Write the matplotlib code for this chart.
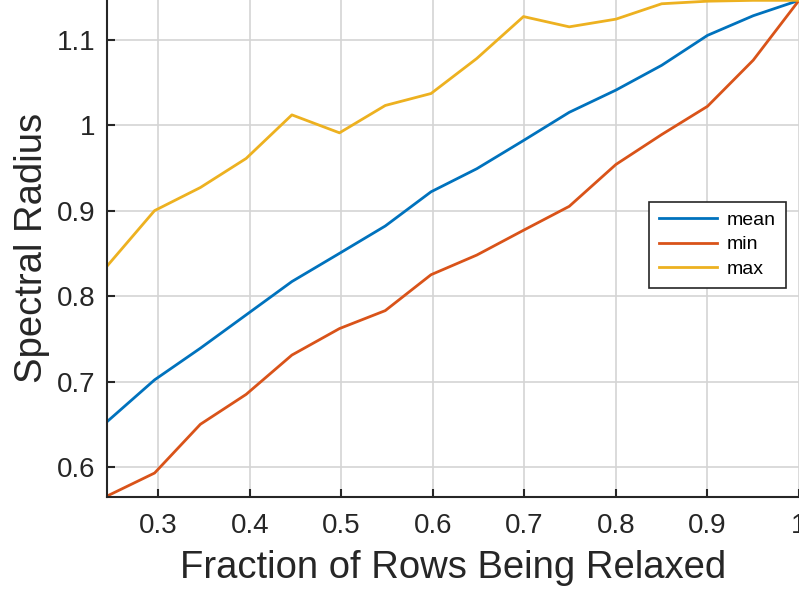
import numpy as np
import matplotlib.pyplot as plt

plt.rcParams['font.family'] = ['Liberation Sans', 'DejaVu Sans']

# fraction of rows relaxed
frac = [0.244, 0.296, 0.346, 0.396, 0.446, 0.498, 0.548, 0.598,
        0.648, 0.699, 0.749, 0.800, 0.850, 0.900, 0.950, 1.000]

rho_mean = [0.653, 0.702, 0.739, 0.778, 0.817, 0.850, 0.882, 0.922,
            0.949, 0.982, 1.015, 1.041, 1.070, 1.105, 1.128, 1.146]
rho_min = [0.566, 0.593, 0.650, 0.685, 0.731, 0.762, 0.783, 0.825,
           0.848, 0.877, 0.905, 0.954, 0.989, 1.022, 1.076, 1.146]
rho_max = [0.835, 0.900, 0.927, 0.961, 1.012, 0.991, 1.023, 1.037,
           1.078, 1.127, 1.115, 1.124, 1.142, 1.145, 1.146, 1.146]

xticks = [0.3, 0.4, 0.5, 0.6, 0.7, 0.8, 0.9, 1.0]
xticklabels = ['0.3', '0.4', '0.5', '0.6', '0.7', '0.8', '0.9', '1']
yticks = [0.6, 0.7, 0.8, 0.9, 1.0, 1.1]
yticklabels = ['0.6', '0.7', '0.8', '0.9', '1', '1.1']

fig = plt.figure(figsize=(7.99, 5.98), dpi=100)
ax = fig.add_axes([0.1339, 0.1694, 0.8661, 0.8306])

ax.plot(frac, rho_mean, color='#0072BD', lw=2, label='mean')
ax.plot(frac, rho_min, color='#D95319', lw=2, label='min')
ax.plot(frac, rho_max, color='#EDB120', lw=2, label='max')

ax.set_xlim(0.244, 1.0)
ax.set_ylim(0.5653, 1.1464)
ax.set_xticks(xticks)
ax.set_xticklabels(xticklabels)
ax.set_yticks(yticks)
ax.set_yticklabels(yticklabels)

ax.grid(True, color='#d4d4d4', lw=1.2)
ax.set_axisbelow(True)
for s in ['top', 'right']:
    ax.spines[s].set_visible(False)
for s in ['left', 'bottom']:
    ax.spines[s].set_color('#262626')
    ax.spines[s].set_linewidth(1.5)

ax.tick_params(direction='in', length=6, width=1.5, colors='#262626',
               labelsize=20)
ax.tick_params(axis='x', pad=12)
ax.tick_params(axis='y', pad=8)

ax.set_xlabel('Fraction of Rows Being Relaxed', fontsize=27.5,
              color='#262626', labelpad=8)
ax.set_ylabel('Spectral Radius', fontsize=27.5, color='#262626', labelpad=5)

leg = ax.legend(loc='upper left', bbox_to_anchor=(0.7835, 0.594),
                borderaxespad=0, fontsize=14, handlelength=3.0,
                fancybox=False, framealpha=1, edgecolor='#262626',
                labelspacing=0.35, handletextpad=0.5, borderpad=0.5)
leg.get_frame().set_linewidth(1.2)

fig.savefig('out.png', dpi=100)
